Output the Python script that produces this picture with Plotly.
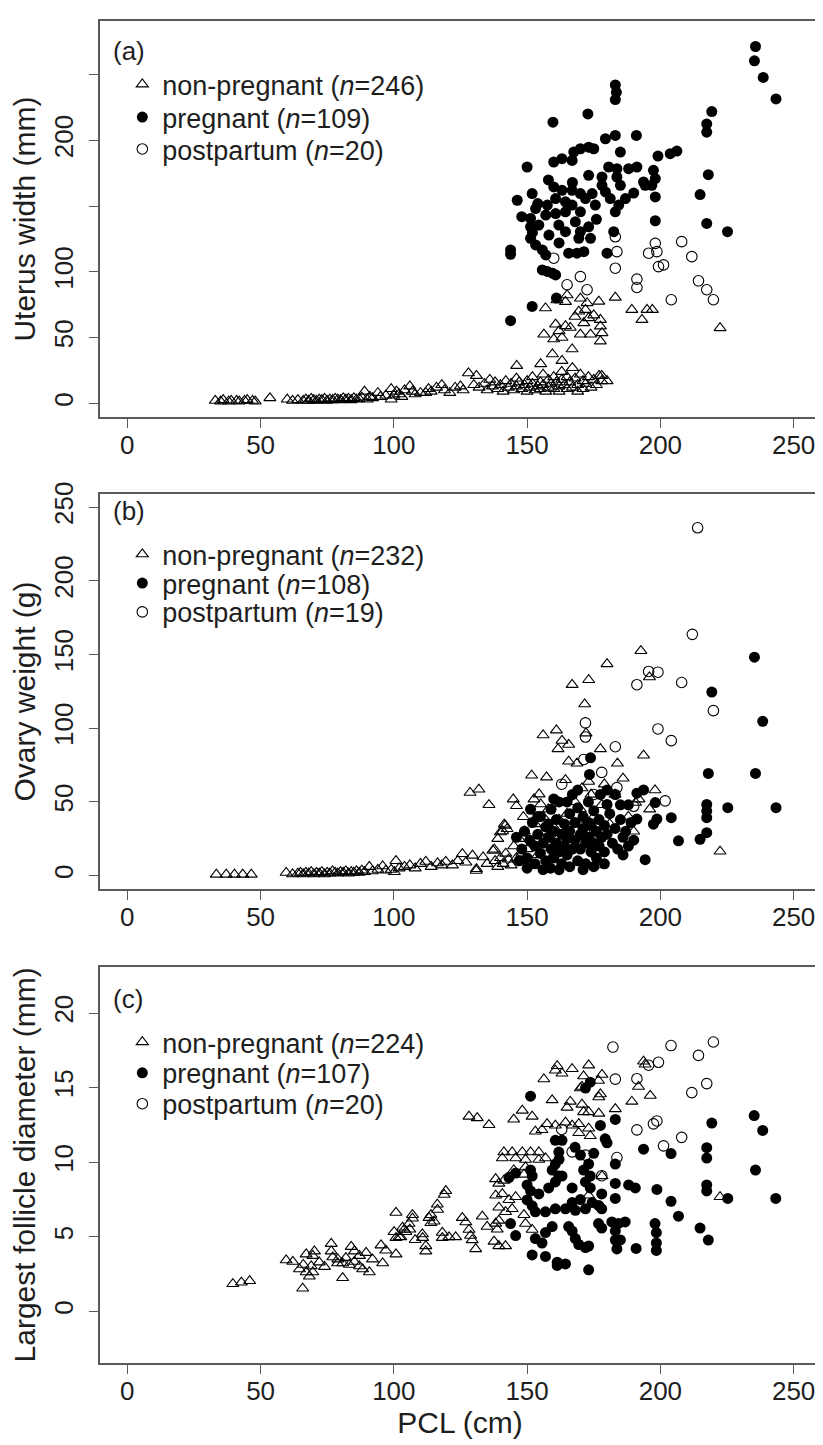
import plotly.graph_objects as go

# ---------------- data (PCL cm, value) ----------------
pcl_ticks = [0, 50, 100, 150, 200, 250]
a_yticks = [0, 50, 100, 150, 200, 250]
a_yticktext = ["0", "50", "100", "", "200", ""]
b_yticks = [0, 50, 100, 150, 200, 250]
c_yticks = [0, 5, 10, 15, 20]

legend_a = ["non-pregnant (<i>n</i>=246)", "pregnant (<i>n</i>=109)", "postpartum (<i>n</i>=20)"]
legend_b = ["non-pregnant (<i>n</i>=232)", "pregnant (<i>n</i>=108)", "postpartum (<i>n</i>=19)"]
legend_c = ["non-pregnant (<i>n</i>=224)", "pregnant (<i>n</i>=107)", "postpartum (<i>n</i>=20)"]
panel_labels = ["(a)", "(b)", "(c)"]

uterus_nonpreg = [
    (33, 2), (35, 1.5), (36, 2.5), (38, 1.5), (39, 2), (41, 2), (42, 1.5), (44, 2), (45, 2.5), (47, 2), (48, 1.5),
    (53.5, 4), (60, 3), (62, 2), (64, 2.5), (66, 2), (67, 3), (68, 2), (69, 3.5), (70, 2.5), (71, 2), (72, 3),
    (73, 2.5), (74, 3.5), (75, 2), (76, 3), (77, 2.5), (78, 3.5), (79, 3), (80, 2.5), (81, 4), (82, 3), (83, 3.5),
    (84, 2.5), (85, 4), (86, 3), (87, 3.5), (88, 4.5), (89, 9), (90, 3), (91, 5), (92, 4), (94, 8), (95, 5),
    (97, 6), (99, 3), (99, 11), (100, 6), (101, 9), (102, 7), (103, 5), (104, 10), (106, 13), (107, 9), (108, 7),
    (110, 8), (112, 8), (113, 11), (114, 9), (116, 12), (118, 14), (119, 10), (121, 8), (123, 12), (125, 13),
    (126, 10), (128, 23), (130, 14), (131, 21), (132, 12), (134, 15), (135, 10), (136, 18), (137, 13), (138, 16),
    (139, 11), (140, 14), (141, 9), (142, 17), (143, 12), (144, 15), (145, 10), (146, 19), (146, 13), (147, 16),
    (148, 11), (149, 14), (150, 17), (150, 9), (151, 12), (152, 20), (152, 15), (153, 10), (154, 13), (155, 16),
    (155, 11), (156, 22), (156, 14), (157, 9), (158, 18), (158, 12), (159, 15), (160, 11), (160, 20), (161, 16),
    (162, 13), (162, 9), (163, 24), (163, 18), (164, 14), (165, 11), (165, 20), (166, 16), (167, 12), (167, 27),
    (168, 19), (169, 14), (169, 9), (170, 22), (171, 17), (171, 11), (172, 15), (173, 20), (174, 12), (175, 18),
    (176, 14), (177, 21), (178, 17), (180, 17), (178, 21),
    (146.1, 28.6), (155.1, 29.9), (159.5, 37.4), (163.1, 32.4), (166.9, 41.2), (156.3, 52.5), (160, 48.8),
    (163.1, 50), (170, 52.5), (173.8, 52.5), (160.7, 60.1), (164.4, 58.8), (166.2, 57.6), (171.3, 61.1),
    (156.9, 72.4), (161.2, 78.5), (164.4, 77.3), (165, 82.3), (169.4, 69.9), (170, 79.8), (171.9, 71.2),
    (172.5, 76.3), (173.1, 64.9), (176.9, 77.5), (177.5, 63.6), (177.5, 58.6), (178.1, 53.5), (177.5, 47.2),
    (183.1, 80.5), (189.3, 71.2), (193.1, 63.6), (195, 71.2), (197, 71.2), (222.4, 57.3), (168, 66), (175, 67),
    (162, 55),
]
uterus_preg = [
    (235.7, 271.5), (235.3, 260.6), (238.6, 248), (243.4, 231.6), (183.1, 242.2), (183.1, 231.1), (183.5, 236.6),
    (172.8, 220.2), (159.7, 213.9), (219.3, 222), (217.4, 212.6), (217.4, 206.3), (191, 203.8), (183.1, 203.8),
    (179.4, 201.3), (206.2, 191.9), (203.7, 189.9), (199.1, 188.1), (185, 191.2), (173.1, 194.9), (170, 193.7),
    (167.5, 191.2), (175, 193.7), (166.9, 184.8), (163.1, 186.1), (160, 183.6), (150, 179.8), (180.6, 179.8),
    (183.7, 178.5), (188.1, 178.5), (191.2, 179.8), (197.4, 177.3), (198.1, 171), (218, 174), (173.1, 173.5),
    (178.1, 172.2), (178.1, 165.9), (183.7, 172.2), (185, 165.9), (193.7, 168.4), (196.8, 165.9), (198.1, 157),
    (194.3, 165.9), (214.9, 158.8), (146.3, 154.5), (151.9, 159.6), (160, 164.6), (163.1, 162.1), (166.9, 162.1),
    (170, 159.6), (174.4, 159.6), (179.4, 160.8), (181.2, 155.8), (186.9, 155.8), (184.4, 150.8), (183.1, 145.7),
    (153.2, 148.2), (157.6, 150.8), (160.7, 155.8), (164.4, 153.3), (166.9, 150.8), (171.9, 155.8), (170, 145.7),
    (175.6, 150.8), (164.4, 145.7), (160.7, 144.4), (157, 143.2), (151.3, 140.7), (151.3, 134.3), (154.4, 135.6),
    (161.9, 135.6), (164.4, 130.6), (168.1, 138.1), (170, 130.6), (173.1, 134.3), (173.8, 125.5), (169.4, 125.5),
    (158.2, 128), (151.3, 125.5), (153.2, 120.5), (155.7, 116.7), (157, 112.9), (165.6, 114.2), (168.7, 114.2),
    (171.3, 115.4), (180, 114.2), (182.5, 130.6), (143.8, 116.7), (143.8, 113.4), (155.7, 101.5), (157.6, 100.3),
    (159.5, 99), (160.7, 97.7), (198.1, 138.9), (217.4, 136.9), (225.2, 130.6), (161, 80.1), (151.9, 73.7),
    (143.8, 62.9), (152, 130), (162, 122), (148, 142), (154, 152), (167, 168), (176, 140), (190, 160), (158, 170),
]
uterus_post = [
    (183.1, 126.7), (183.7, 115.4), (183.1, 102.8), (160, 110.4), (165, 90.2), (170, 96.4), (172.5, 86.4),
    (191.2, 94.5), (191.2, 88.1), (195.6, 114.2), (198.1, 121.7), (198.7, 115.4), (199.3, 104), (201.2, 105.3),
    (208, 123), (211.8, 111.6), (204.1, 78.8), (214.3, 93.2), (217.4, 86.4), (219.9, 78.8),
]

ovary_nonpreg = [
    (33.4, 0.7), (37.1, 0.7), (40.2, 0.7), (43.3, 0.7), (46.5, 0.7), (59.6, 2), (62, 1), (64, 1.5), (65, 2),
    (66, 1), (67, 2), (68, 1.5), (69, 2.5), (70, 1), (71, 2), (72, 1.5), (73, 2.5), (74, 1), (75, 2), (76, 1.5),
    (77, 3), (78, 2), (79, 1.5), (80, 2.5), (81, 2), (82, 3), (83, 1.5), (84, 2.5), (85, 2), (86, 3), (87, 2),
    (88, 3.5), (89, 2.5), (90.8, 6), (92, 3), (94, 4), (95.8, 6.4), (97, 3.5), (99, 4), (100.2, 2.5), (100.8, 10),
    (102, 5), (104, 6), (106, 7), (108, 5), (110, 8), (112, 9.5), (114, 6), (116.4, 8.4), (118, 7), (119.5, 9.5),
    (122, 7), (124, 10), (125.7, 14.7), (127, 9), (129.5, 13.6), (131, 4.5), (133.5, 12.5), (135, 8),
    (137.7, 17.8), (138, 10), (139, 6), (140, 12), (141, 8), (142, 15), (143, 11), (144, 7),
    (128.6, 56.3), (131.9, 58.5), (135.7, 48), (140, 29.5), (142.5, 31.7), (139, 25), (137.2, 17), (141.8, 34),
    (140.8, 30.2), (141.4, 34.7), (144.8, 51.8), (146, 47.3), (148.6, 39.8), (152.6, 51.8), (154.5, 55.2),
    (155.1, 48.5), (151.7, 68), (157.3, 66.7), (156, 95.3), (161, 98.6), (163.1, 91.6), (165.6, 88.9),
    (161.6, 85.9), (166.9, 129.5), (173.1, 132.8), (171.6, 116.3), (172.1, 96.6), (180, 143.6), (192.7, 152.5),
    (195.9, 134.7), (177.5, 85.9), (193.7, 81.6), (165.6, 77.5), (183.9, 76.1), (168.7, 76.1), (164.4, 64.9),
    (170.6, 59.3), (173.1, 63.8), (190.7, 49.5), (192, 51.8), (222.4, 16.4), (177.9, 7.1), (130.9, 3.4),
    (145, 20), (146, 12), (147, 25), (148, 15), (149, 30), (150, 18), (151, 10), (152, 22), (153, 35), (154, 14),
    (155, 27), (156, 40), (157, 19), (158, 45), (159, 12), (160, 33), (161, 24), (162, 38), (163, 16), (164, 28),
    (165, 42), (166, 20), (167, 35), (168, 50), (169, 26), (170, 45), (171, 38), (172, 30), (174, 55), (175, 40),
    (176, 28), (178, 48), (179, 62), (181, 35), (183, 55), (186, 66), (188, 40), (190, 30), (196, 45), (198, 58),
]
ovary_preg = [
    (235.3, 148.2), (219.3, 124.5), (238.4, 104.7), (218, 69.3), (235.7, 69.3), (225.3, 46.1), (243.4, 46.1),
    (217.4, 48.3), (217.4, 43.8), (217.4, 39.3), (214.9, 24.6), (217.4, 29.1), (206.8, 23.6), (204.1, 39.3),
    (198.1, 49.5), (198.7, 38.3), (197.4, 34.9), (194.3, 10.8), (191.2, 38.3), (193.7, 58.1), (191.2, 55.9),
    (173.8, 79.9), (173.4, 68.6), (177.5, 55), (180, 48.3), (183.1, 55), (151.3, 45), (158.8, 5),
    (148, 18), (149, 30), (150, 12), (151, 24), (152, 36), (153, 8), (153, 20), (154, 28), (155, 15), (155, 40),
    (156, 22), (157, 10), (157, 33), (158, 26), (159, 18), (159, 45), (160, 30), (160, 12), (161, 22), (161, 38),
    (162, 16), (162, 50), (163, 28), (163, 8), (164, 35), (164, 20), (165, 25), (165, 14), (166, 42), (166, 30),
    (167, 18), (167, 55), (168, 24), (168, 36), (169, 10), (169, 46), (170, 28), (170, 18), (171, 32), (171, 40),
    (172, 22), (172, 8), (173, 26), (173, 50), (174, 16), (174, 34), (175, 44), (175, 22), (176, 12), (176, 30),
    (177, 38), (177, 20), (178, 26), (179, 16), (179, 34), (180, 28), (181, 42), (182, 22), (183, 32), (184, 18),
    (185, 38), (186, 26), (187, 30), (188, 20), (189, 36), (166, 6), (171, 4), (162, 4), (185, 48), (180, 58),
    (150, 5), (154, 40), (156, 4), (158, 35), (160, 52), (165, 50), (169, 58), (173, 36), (175, 6), (179, 8),
    (186, 14), (188, 48), (190, 24), (146, 26), (147, 10),
]
ovary_post = [
    (214, 236), (212, 163.7), (191.2, 129.5), (195.6, 138.5), (199.1, 138), (208, 131), (219.9, 111.9),
    (171.9, 103.6), (199.1, 99.5), (204.1, 91.6), (183.1, 87.4), (171.3, 78.8), (183.7, 59.7), (201.8, 50.7),
    (171.9, 94), (163, 62), (175, 55), (190, 47), (178, 70),
]

follicle_nonpreg = [
    (39.6, 1.85), (42.8, 1.95), (45.9, 2.05), (65.8, 1.55), (59.6, 3.44), (62.1, 3.34), (67.1, 3.84), (69.6, 3.74),
    (70.2, 4.04), (64.6, 2.84), (67.1, 2.64), (68.3, 2.35), (69.6, 2.64), (66, 3.14), (69, 3.04), (76.5, 4.54),
    (76.5, 4.04), (77.1, 3.64), (78.9, 3.24), (80.8, 2.25), (80.8, 3.24), (83.3, 3.14), (85.2, 3.34), (87.1, 3.04),
    (84, 4.34), (85.2, 4.04), (87.1, 3.74), (89.6, 3.94), (88.3, 2.84), (90.8, 2.64), (95.2, 4.44), (95.8, 3.24),
    (100.8, 6.63), (100.1, 5.34), (100.8, 4.94), (100.8, 3.84), (103.3, 5.64), (104.5, 5.34), (107, 6.24),
    (112, 4.04), (113.9, 5.94), (115.1, 6.04), (116.4, 6.83), (118.9, 7.83), (110.8, 4.94), (118.2, 4.94),
    (72, 3.3), (74, 3.0), (79, 3.5), (82, 3.6), (92, 3.5), (97, 4.1), (102, 5.0), (106, 5.5), (108, 4.8),
    (161.3, 16.46), (160.6, 16.16), (163.1, 15.96), (166.9, 16.26), (173.1, 16.5), (156.3, 15.57), (171.2, 15.77),
    (178.1, 15.87), (176.8, 15.47), (170, 14.97), (170.6, 15.07), (177.5, 14.57), (176.9, 14.37), (193.7, 16.76),
    (194.3, 16.56), (191.8, 15.07), (196.2, 14.47), (189.3, 14.07), (159.4, 14.17), (166.2, 14.07), (170.6, 13.87),
    (165, 13.67), (183.1, 13.57), (171.2, 13.37), (173.1, 13.37), (176.9, 13.27), (128.2, 13.07), (131.3, 12.97),
    (135.7, 12.51), (145, 12.87), (148.2, 13.47), (151.9, 13.07), (153.1, 12.07), (155.6, 12.17), (157.5, 12.57),
    (160.6, 12.47), (164.4, 12.67), (166.9, 12.47), (169.4, 12.57), (173.1, 12.27), (169.4, 11.97), (173.7, 11.77),
    (141.3, 10.68), (144.4, 10.68), (148.2, 10.68), (151.3, 10.68), (154.4, 10.68), (140.7, 10.28), (145.7, 10.28),
    (149.4, 10.18), (154.4, 10.18), (156.9, 10.28), (149.4, 9.68), (145, 9.48), (148.8, 9.18), (138.2, 8.88),
    (141.3, 8.78), (139.4, 8.58), (138.2, 7.78), (140.7, 7.88), (143.2, 7.48), (145.7, 7.68), (139.4, 6.98),
    (141.9, 6.68), (144.4, 6.88), (148.8, 6.48), (149.4, 5.89), (151.9, 5.49), (178.1, 9.08), (173.1, 7.78),
    (222.4, 7.68), (119.5, 8.08), (116.3, 7.18), (113.9, 6.48), (113.2, 6.28), (107, 6.48), (105.7, 5.89),
    (103.9, 5.49), (102.6, 4.99), (110.7, 5.19), (112, 4.39), (118.2, 5.29), (120.7, 4.99), (123.2, 4.99),
    (125.7, 6.28), (127, 5.99), (128.2, 5.49), (128.8, 5.09), (129.4, 4.79), (130.7, 4.19), (133.2, 6.38),
    (135, 5.69), (137.6, 4.69), (139.4, 4.39), (141.9, 4.39), (138.2, 5.9), (139.4, 6.1), (138.8, 5.5),
]
follicle_preg = [
    (235.2, 13.13), (238.4, 12.13), (235.7, 9.48), (243.3, 7.58), (225.3, 7.58), (219.3, 12.63), (217.4, 10.98),
    (217.4, 10.28), (217.4, 8.48), (217.4, 8.08), (214.9, 5.59), (218, 4.79), (206.8, 6.39), (204, 7.38),
    (204, 10.58), (198.7, 8.18), (198, 5.89), (198.5, 5.29), (198.5, 4.59), (198.5, 4.09), (193.7, 10.88),
    (188.1, 8.48), (190.6, 8.28), (190.9, 4.23), (183.1, 12.87), (173.7, 15.37), (171.9, 14.97), (151.3, 14.43),
    (177.5, 12.47), (179.3, 11.57), (180, 11.3), (183.1, 9.88), (183.1, 8.58), (183.1, 7.58), (178, 7.88),
    (178, 6.88), (176.8, 5.89), (178, 5.59), (181.8, 6), (184.3, 5.9), (186.8, 6), (183.1, 4.79), (183.7, 4.19),
    (173.1, 2.79), (161.3, 3.09), (164.4, 3.19), (156.9, 3.69), (151.9, 3.79), (153.1, 4.89), (155.6, 4.59),
    (145.7, 5.09), (143.8, 5.89), (143.2, 8.98), (145.7, 9.28), (150, 8.48), (151.3, 9.48), (151.9, 9.08),
    (151.3, 8.08), (150, 7.48), (151.9, 7.08), (153.1, 6.68), (156.9, 6.68), (160.6, 6.88), (164.4, 6.88),
    (168.1, 6.78), (171.9, 6.88), (154.4, 7.88), (158.1, 8.28), (160.6, 8.68), (163.1, 9.08), (166.9, 8.28),
    (171.9, 8.68), (173.7, 8.28), (160.6, 11.47), (163.1, 11.47), (161.9, 10.68), (160.6, 9.88), (159.4, 9.48),
    (161.9, 9.08), (170, 10.48), (173.1, 9.88), (173.7, 9.08), (171.2, 9.48), (165.6, 5.69), (166.9, 5.39),
    (168.1, 4.89), (169.4, 4.49), (171.9, 4.29), (173.1, 4.39), (176.9, 7.1), (183.1, 5.4), (185, 4.8),
    (161.3, 3.3), (156.9, 5.29), (159.4, 5.69), (174.4, 7.3), (166.9, 7.3), (170, 7.5), (162, 10.2), (168, 11),
    (175, 10.6),
]
follicle_post = [
    (182.2, 17.72), (204, 17.82), (219.9, 18.06), (214.3, 17.16), (199.3, 16.7), (195.6, 16.5), (183.1, 15.57),
    (191.2, 15.6), (217.4, 15.27), (211.8, 14.67), (191.2, 12.17), (198.7, 12.77), (197.4, 12.57), (208, 11.67),
    (201.2, 11.1), (183.7, 10.32), (171.9, 10.48), (166.9, 10.7), (163, 12.2), (178, 9.1),
]

# ---------------- geometry (page body has an 8px margin) ----------------
FONT = "Liberation Sans, Arial, Helvetica, sans-serif"
INK = "#1e1e1e"
LINE = "#5a5a5a"
PAD = 8
W, H = 823 - PAD, 1445 - PAD
PLOT_TOP, PLOT_BOT = 15, 1363          # reference pixel rows of the plot block
SPAN = PLOT_BOT - PLOT_TOP


def py(ref_y):
    """reference pixel row -> paper fraction"""
    return (PLOT_BOT - ref_y) / SPAN


label_rows = [45, 507, 997]
legend_rows = [[79, 112, 144], [551, 580, 609], [1041, 1072, 1103]]

panels = [
    ("x", "y", [uterus_nonpreg, uterus_preg, uterus_post], legend_a),
    ("x2", "y2", [ovary_nonpreg, ovary_preg, ovary_post], legend_b),
    ("x3", "y3", [follicle_nonpreg, follicle_preg, follicle_post], legend_c),
]
styles = [
    dict(symbol="triangle-up-open", size=10.5, color="black", line=dict(width=1.1, color="black")),
    dict(symbol="circle", size=11, color="black", line=dict(width=0)),
    dict(symbol="circle-open", size=10.5, color="black", line=dict(width=1.1, color="black")),
]

fig = go.Figure()
legend_layout = {}
k = 0
for p, (xa, ya, groups, names) in enumerate(panels):
    for i, (pts, name, st) in enumerate(zip(groups, names, styles)):
        k += 1
        lg = "legend" if k == 1 else f"legend{k}"
        fig.add_trace(go.Scatter(
            x=[q[0] for q in pts], y=[q[1] for q in pts], mode="markers",
            name=name, marker=st, xaxis=xa, yaxis=ya, legend=lg, showlegend=True,
        ))
        legend_layout[lg] = dict(
            font=dict(family=FONT, size=27, color=INK), bgcolor="rgba(0,0,0,0)",
            borderwidth=0, xanchor="left", yanchor="middle", x=0.031,
            y=py(legend_rows[p][i]),
        )

axis_common = dict(
    showline=True, linecolor=LINE, linewidth=1.5, mirror=True,
    ticks="outside", ticklen=9, tickwidth=1.2, tickcolor=LINE,
    showgrid=False, zeroline=False,
    tickfont=dict(family=FONT, size=26, color=INK),
)
x_common = dict(axis_common, range=[-10.25, 259.9], tickvals=pcl_ticks, ticklabelstandoff=-5)
y_common = dict(axis_common, tickangle=-90, ticklabelstandoff=6)
title_font = dict(family=FONT, size=30, color=INK)

fig.update_layout(
    width=W, height=H,
    margin=dict(l=100 - PAD, r=W - (822 - PAD), t=PLOT_TOP - PAD, b=H - (PLOT_BOT - PAD)),
    paper_bgcolor="white", plot_bgcolor="white",
    font=dict(family=FONT, color=INK),
    showlegend=True,
    xaxis=dict(x_common, domain=[0, 1], anchor="y"),
    yaxis=dict(y_common, domain=[py(413), 1.0], anchor="x", range=[-10.6, 290.9],
               tickvals=a_yticks, ticktext=a_yticktext,
               title=dict(text="Uterus width (mm)", font=title_font, standoff=10)),
    xaxis2=dict(x_common, domain=[0, 1], anchor="y2"),
    yaxis2=dict(y_common, domain=[py(887), py(490)], anchor="x2", range=[-9.2, 259],
                tickvals=b_yticks,
                title=dict(text="Ovary weight (g)", font=title_font, standoff=10)),
    xaxis3=dict(x_common, domain=[0, 1], anchor="y3",
                title=dict(text="PCL (cm)", font=title_font, standoff=6)),
    yaxis3=dict(y_common, domain=[0.0, py(965)], anchor="x3", range=[-3.45, 23.1],
                tickvals=c_yticks,
                title=dict(text="Largest follicle diameter (mm)", font=title_font, standoff=10)),
    annotations=[
        dict(text=lab, xref="paper", yref="paper", x=0.0152, y=py(row),
             xanchor="left", yanchor="middle", showarrow=False,
             font=dict(family=FONT, size=26, color=INK))
        for lab, row in zip(panel_labels, label_rows)
    ],
    **legend_layout,
)

fig.write_html("out.html")
